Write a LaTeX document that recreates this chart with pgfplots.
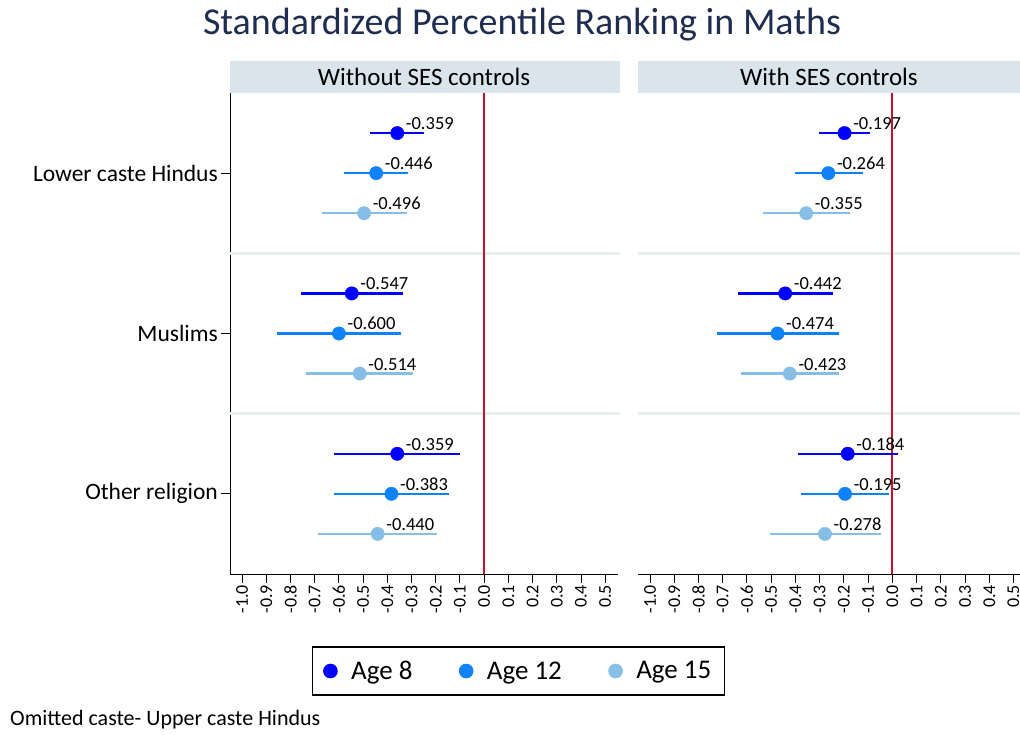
\documentclass[border=0pt]{standalone}
\usepackage{pgfplots}
\pgfplotsset{compat=1.18}
\usepackage{pgfplotstable}
\usepackage{fontspec}
\setmainfont{Carlito}
\definecolor{cA}{RGB}{0,0,255}
\definecolor{cB}{RGB}{15,130,250}
\definecolor{cC}{RGB}{135,190,230}
\definecolor{redl}{RGB}{200,16,46}
\definecolor{strip}{RGB}{217,229,234}
\definecolor{sepc}{RGB}{232,239,241}
\definecolor{titlec}{RGB}{30,45,80}

% y: Lower caste 11/10/9, Muslims 7/6/5, Other 3/2/1
\pgfplotstableread{
y est lo hi lab
11 -0.359 -0.472 -0.249 -0.359
7 -0.547 -0.757 -0.336 -0.547
3 -0.359 -0.620 -0.100 -0.359
}\LA
\pgfplotstableread{
y est lo hi lab
10 -0.446 -0.579 -0.313 -0.446
6 -0.600 -0.854 -0.344 -0.600
2 -0.383 -0.621 -0.146 -0.383
}\LB
\pgfplotstableread{
y est lo hi lab
9 -0.496 -0.670 -0.318 -0.496
5 -0.514 -0.735 -0.294 -0.514
1 -0.440 -0.686 -0.195 -0.440
}\LC
\pgfplotstableread{
y est lo hi lab
11 -0.197 -0.303 -0.092 -0.197
7 -0.442 -0.635 -0.244 -0.442
3 -0.184 -0.391 0.023 -0.184
}\RA
\pgfplotstableread{
y est lo hi lab
10 -0.264 -0.403 -0.123 -0.264
6 -0.474 -0.723 -0.218 -0.474
2 -0.195 -0.377 -0.014 -0.195
}\RB
\pgfplotstableread{
y est lo hi lab
9 -0.355 -0.532 -0.175 -0.355
5 -0.423 -0.623 -0.218 -0.423
1 -0.278 -0.504 -0.048 -0.278
}\RC

\pgfplotsset{
  panel/.style={
    scale only axis, height=481pt, ymin=0, ymax=12, clip=false,
    axis line style={line width=1pt, black},
    xtick={-1,-0.9,-0.8,-0.7,-0.6,-0.5,-0.4,-0.3,-0.2,-0.1,0,0.1,0.2,0.3,0.4,0.5},
    xticklabels={-1.0,-0.9,-0.8,-0.7,-0.6,-0.5,-0.4,-0.3,-0.2,-0.1,0.0,0.1,0.2,0.3,0.4,0.5},
    x tick label style={rotate=90, anchor=east, font=\fontsize{18}{20}\selectfont, inner sep=2pt},
    tick style={black, line width=0.9pt},
    tick align=outside, major tick length=9pt,
    axis x line*=bottom,
  },
  ebar/.style={draw=none, mark=none, forget plot,
    error bars/.cd, x dir=both, x explicit, error mark=none,
    error bar style={draw=#1, line width=2.4pt, solid}},
  pts/.style={only marks, mark=*, mark size=6.7pt, color=#1, mark options={draw=#1, fill=#1},
    point meta=explicit symbolic, nodes near coords, nodes near coords align=center,
    every node near coord/.append style={anchor=base west, xshift=8.5pt, yshift=3.5pt, inner sep=0pt, text=black, font=\fontsize{18.5}{20}\selectfont}},
}

\newcommand{\ciplot}[2]{%
  \addplot[ebar=#1] table[x=est, y=y, x error plus expr=\thisrow{hi}-\thisrow{est}, x error minus expr=\thisrow{est}-\thisrow{lo}] {#2};
}
\newcommand{\ptplot}[2]{%
  \addplot[pts=#1] table[x=est, y=y, meta=lab] {#2};
}

\begin{document}
\begin{tikzpicture}
\useasboundingbox (0,0) rectangle (1020pt,734pt);
\node[font=\fontsize{38}{42}\selectfont, text=titlec] at (522pt,709pt) {Standardized Percentile Ranking in Maths};
\node[anchor=west, font=\fontsize{22}{24}\selectfont, inner sep=0pt] at (10pt,14pt) {Omitted caste- Upper caste Hindus};

\begin{axis}[panel, at={(230pt,160pt)}, anchor=south west, width=388pt,
  xmin=-1.05, xmax=0.553,
  axis y line*=left,
  ytick={2,6,10}, yticklabels={Other religion,Muslims,Lower caste Hindus},
  y tick label style={font=\fontsize{23.5}{25}\selectfont, inner sep=3pt},
  legend style={at={(0.7436,-0.2017)}, anchor=center, draw=black, line width=1.2pt,
    font=\fontsize{27}{29}\selectfont, inner xsep=11pt, inner ysep=12pt},
  legend columns=3,
  legend cell align=left,
  legend image code/.code={\draw[mark size=6.7pt] plot coordinates {(0pt,0pt)};},
  /tikz/every odd column/.append style={column sep=12pt},
  /tikz/every even column/.append style={column sep=45pt},
]
\fill[strip] (rel axis cs:0,1) rectangle ([yshift=32pt]rel axis cs:1.005,1);
\node[font=\fontsize{25}{27}\selectfont] at ([yshift=16pt]rel axis cs:0.5,1) {Without SES controls};
\draw[sepc, line width=3pt] (axis cs:-1.05,4) -- (axis cs:0.56,4);
\draw[sepc, line width=3pt] (axis cs:-1.05,8) -- (axis cs:0.56,8);
\draw[redl, line width=2pt] (axis cs:0,0) -- (axis cs:0,12);
\ciplot{cA}{\LA}
\ciplot{cB}{\LB}
\ciplot{cC}{\LC}
\ptplot{cA}{\LA}
\ptplot{cB}{\LB}
\ptplot{cC}{\LC}
\legend{Age 8, Age 12, Age 15}
\end{axis}

\begin{axis}[panel, at={(638pt,160pt)}, anchor=south west, width=382pt,
  xmin=-1.0495, xmax=0.527,
  axis y line=none, ytick=\empty,
]
\fill[strip] (rel axis cs:0,1) rectangle ([yshift=32pt]rel axis cs:1,1);
\node[font=\fontsize{25}{27}\selectfont] at ([yshift=16pt]rel axis cs:0.5,1) {With SES controls};
\draw[sepc, line width=3pt] (axis cs:-1.0495,4) -- (axis cs:0.527,4);
\draw[sepc, line width=3pt] (axis cs:-1.0495,8) -- (axis cs:0.527,8);
\draw[redl, line width=2pt] (axis cs:0,0) -- (axis cs:0,12);
\ciplot{cA}{\RA}
\ciplot{cB}{\RB}
\ciplot{cC}{\RC}
\ptplot{cA}{\RA}
\ptplot{cB}{\RB}
\ptplot{cC}{\RC}
\end{axis}
\end{tikzpicture}
\end{document}
